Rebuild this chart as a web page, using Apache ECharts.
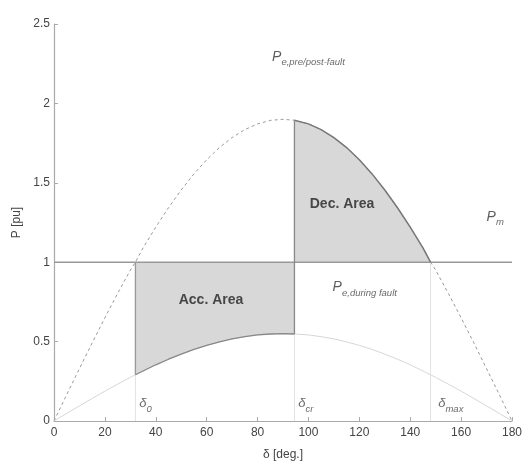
<!DOCTYPE html>
<html><head><meta charset="utf-8">
<script src="https://cdn.jsdelivr.net/npm/echarts@6/dist/echarts.min.js"></script>
<style>html,body{margin:0;padding:0;background:#fff}#c{width:522px;height:464px}</style>
</head><body><div id="c"></div>
<script>
// rotor angle (deg)
const delta = [0,5,10,15,20,25,30,32,35,40,45,50,55,60,65,70,75,80,85,90,94.5,95,100,105,110,115,120,125,130,135,140,145,148,150,155,160,165,170,175,180];
// pre/post-fault electrical power (pu)
const pPre = [0,0.166,0.330,0.492,0.650,0.803,0.950,1.0,1.090,1.221,1.343,1.455,1.556,1.645,1.722,1.785,1.835,1.871,1.893,1.9,1.894,1.893,1.871,1.835,1.785,1.722,1.645,1.556,1.455,1.343,1.221,1.090,1.0,0.950,0.803,0.650,0.492,0.330,0.166,0];
// during-fault electrical power (pu)
const pDuring = [0,0.048,0.095,0.142,0.188,0.232,0.275,0.291,0.315,0.354,0.389,0.421,0.451,0.476,0.498,0.517,0.531,0.542,0.548,0.55,0.548,0.548,0.542,0.531,0.517,0.498,0.476,0.451,0.421,0.389,0.354,0.315,0.291,0.275,0.232,0.188,0.142,0.095,0.048,0];
// mechanical power
const pM = 1;
// key angles
const delta0 = 32, deltaCr = 94.5, deltaMax = 148;
const xTicks = [0,20,40,60,80,100,120,140,160,180];
const yTicks = [0,0.5,1,1.5,2,2.5];

const idx = d => delta.indexOf(d);
const pairs = (arr, a, b) => delta.map((d,i)=>[d,arr[i]]).filter(p=>p[0]>=a && p[0]<=b);

const accPoly = [[delta0,pM],[deltaCr,pM]].concat(pairs(pDuring, delta0, deltaCr).reverse());
const decPoly = pairs(pPre, deltaCr, deltaMax).concat([[deltaMax,pM],[deltaCr,pM]]);
const polys = [accPoly, decPoly];

const lineS = (data, color, width, type, z) => ({
  type:'line', data, showSymbol:false, symbol:'none', silent:true, animation:false, z: z||3,
  lineStyle:{color, width, type: type||'solid'}
});

const sub = {fontSize:9.5, fontStyle:'italic', fontFamily:'Liberation Sans', color:'#444', padding:[11,0,0,0]};
const big = {fontSize:14, fontStyle:'italic', fontFamily:'Liberation Sans', color:'#333'};

const annots = [
  {value:[85.7,2.29], text:'{p|P}{s|e,pre/post-fault}'},
  {value:[170,1.285], text:'{p|P}{s|m}'},
  {value:[109.5,0.84], text:'{p|P}{s|e,during fault}'},
  {value:[33.5,0.11], text:'{d|δ}{s|0}'},
  {value:[96,0.11], text:'{d|δ}{s|cr}'},
  {value:[151,0.11], text:'{d|δ}{s|max}'},
  {value:[61.7,0.762], text:'{b|Acc. Area}', center:true},
  {value:[113.2,1.366], text:'{b|Dec. Area}', center:true}
];

const chart = echarts.init(document.getElementById('c'), null, {renderer:'canvas'});
chart.setOption({
  animation:false,
  backgroundColor:'#fff',
  grid:{left:54, right:10, top:24, bottom:43, containLabel:false, outerBoundsMode:'none'},
  xAxis:{type:'value', min:0, max:180, interval:20,
    name:'δ [deg.]', nameLocation:'middle', nameGap:28,
    nameTextStyle:{fontSize:12, color:'#444', fontFamily:'Liberation Sans'},
    axisLine:{lineStyle:{color:'#aaa', width:1.2}},
    axisTick:{inside:true, length:4, lineStyle:{color:'#aaa'}},
    axisLabel:{fontSize:12, color:'#444', fontFamily:'Liberation Sans', margin:6, hideOverlap:false,
      formatter: v => xTicks.includes(v) ? String(v) : ''},
    splitLine:{show:false}},
  yAxis:{type:'value', min:0, max:2.5, interval:0.5,
    name:'P [pu]', nameLocation:'middle', nameGap:29, nameRotate:90,
    nameTextStyle:{fontSize:12, color:'#444', fontFamily:'Liberation Sans'},
    axisLine:{show:true, lineStyle:{color:'#aaa', width:1.2}},
    axisTick:{show:true, inside:true, length:4, lineStyle:{color:'#aaa'}},
    axisLabel:{fontSize:12, color:'#444', fontFamily:'Liberation Sans', margin:4,
      formatter: v => yTicks.includes(v) ? String(v) : ''},
    splitLine:{show:false}},
  series:[
    {type:'custom', silent:true, z:1, animation:false,
     data: polys.map((p,i)=>[i,0]),
     renderItem:(params, api)=>({type:'polygon', shape:{points: polys[params.dataIndex].map(p=>api.coord(p))},
       style:{fill:'#d8d8d8', stroke:null}})},
    lineS(delta.map((d,i)=>[d,pPre[i]]), '#999', 1, [3,3], 2),
    lineS(pairs(pPre, deltaCr, deltaMax), '#777', 1.5, 'solid', 4),
    lineS(delta.map((d,i)=>[d,pDuring[i]]), '#d6d6d6', 1, 'solid', 2),
    lineS(pairs(pDuring, delta0, deltaCr), '#888', 1.3, 'solid', 4),
    lineS([[0,pM],[180,pM]], '#999', 1.5, 'solid', 3),
    lineS([[delta0,pM],[delta0,pDuring[idx(delta0)]]], '#999', 1.3, 'solid', 4),
    lineS([[delta0,pDuring[idx(delta0)]],[delta0,0]], '#e2e2e2', 1, 'solid', 2),
    lineS([[deltaCr,pPre[idx(deltaCr)]],[deltaCr,pDuring[idx(deltaCr)]]], '#888', 1.3, 'solid', 4),
    lineS([[deltaCr,pDuring[idx(deltaCr)]],[deltaCr,0]], '#e2e2e2', 1, 'solid', 2),
    lineS([[deltaMax,pM],[deltaMax,0]], '#e2e2e2', 1, 'solid', 2),
    {type:'scatter', silent:true, symbolSize:0, z:6, animation:false,
     data: annots.map(a=>({value:a.value,
       label:{show:true, position: a.center ? 'inside' : 'right', distance:0, formatter:a.text,
         align: a.center ? 'center' : 'left', verticalAlign:'middle',
         rich:{p:big, d:{fontSize:13, fontStyle:'italic', fontFamily:'Liberation Sans', color:'#444'},
           s:sub, b:{fontSize:14, fontWeight:'bold', fontFamily:'Liberation Sans', color:'#222'}}}}))}
  ]
});
</script></body></html>
